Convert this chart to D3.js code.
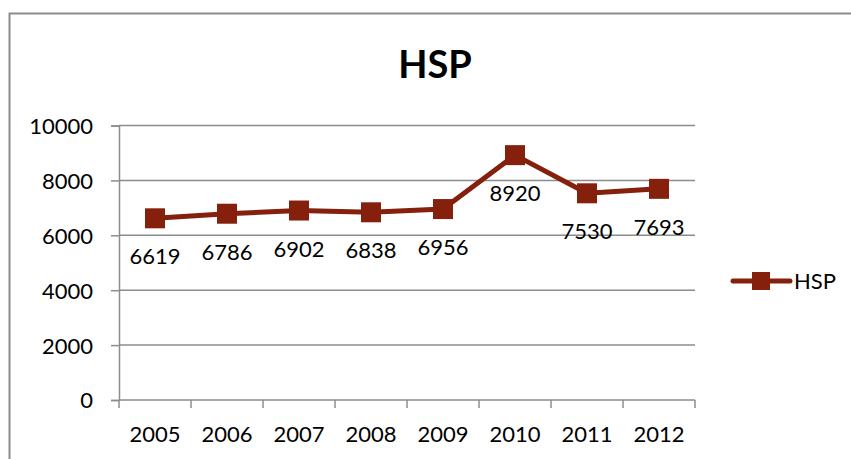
<!DOCTYPE html>
<html>
<head>
<meta charset="utf-8">
<script src="https://cdn.jsdelivr.net/npm/d3@7"></script>
<style>
  body { margin: 0; background: #fff; }
  text { font-family: Lato, "Open Sans", sans-serif; fill: #000; }
</style>
</head>
<body>
<div id="target"></div>
<script>
const years = ['2005', '2006', '2007', '2008', '2009', '2010', '2011', '2012'];
const hsp = [6619, 6786, 6902, 6838, 6956, 8920, 7530, 7693];
const yTicks = [0, 2000, 4000, 6000, 8000, 10000];

const width = 851;
const height = 459;
const red = '#85200c';
const grey = '#8c8c8c';

const svg = d3.select('#target').append('svg').attr('width', width).attr('height', height);

// chart frame (only top and left edges fall inside the picture)
svg.append('rect')
  .attr('x', 9.5)
  .attr('y', 13.5)
  .attr('width', 900)
  .attr('height', 500)
  .attr('fill', 'none')
  .attr('stroke', grey)
  .attr('stroke-width', 2);

svg.append('text')
  .attr('x', 435)
  .attr('y', 78)
  .attr('text-anchor', 'middle')
  .style('font-size', '38px')
  .style('font-weight', 'bold')
  .text('HSP');

const x = d3.scaleBand().domain(years).range([119, 695]);
const y = d3.scaleLinear().domain([0, 10000]).range([400, 125.5]);

// gridlines
svg.selectAll('.grid')
  .data(yTicks.filter((d) => d > 0))
  .enter()
  .append('line')
  .attr('class', 'grid')
  .attr('x1', 119)
  .attr('x2', 695)
  .attr('y1', (d) => y(d))
  .attr('y2', (d) => y(d))
  .attr('stroke', grey)
  .attr('stroke-width', 1.5);

// y axis
const yAxis = svg.append('g')
  .attr('transform', 'translate(119,0)')
  .call(d3.axisLeft(y).tickValues(yTicks).tickSize(8).tickPadding(18).tickFormat(d3.format('d')));
yAxis.select('.domain').attr('stroke', grey).attr('stroke-width', 1.5);
yAxis.selectAll('.tick line').attr('stroke', grey).attr('stroke-width', 1.5);
yAxis.selectAll('.tick text').style('font-size', '22px').attr('dy', '0.36em');

// x axis, ticks sit between categories
const xAxis = svg.append('g')
  .attr('transform', 'translate(0,400)');
xAxis.append('line')
  .attr('x1', 119)
  .attr('x2', 695)
  .attr('stroke', grey)
  .attr('stroke-width', 1.5);
xAxis.selectAll('.xtick')
  .data(years.concat(['end']))
  .enter()
  .append('line')
  .attr('class', 'xtick')
  .attr('x1', (d, i) => 119 + i * x.bandwidth())
  .attr('x2', (d, i) => 119 + i * x.bandwidth())
  .attr('y1', 0)
  .attr('y2', 8)
  .attr('stroke', grey)
  .attr('stroke-width', 1.5);
xAxis.selectAll('.xlabel')
  .data(years)
  .enter()
  .append('text')
  .attr('class', 'xlabel')
  .attr('x', (d) => x(d) + x.bandwidth() / 2)
  .attr('y', 42)
  .attr('text-anchor', 'middle')
  .style('font-size', '22px')
  .text((d) => d);

const pts = years.map((d, i) => ({ year: d, value: hsp[i] }));

const line = d3.line()
  .x((d) => x(d.year) + x.bandwidth() / 2)
  .y((d) => y(d.value));

svg.append('path')
  .datum(pts)
  .attr('d', line)
  .attr('fill', 'none')
  .attr('stroke', red)
  .attr('stroke-width', 5)
  .attr('stroke-linejoin', 'round');

svg.selectAll('.marker')
  .data(pts)
  .enter()
  .append('rect')
  .attr('class', 'marker')
  .attr('x', (d) => x(d.year) + x.bandwidth() / 2 - 10)
  .attr('y', (d) => y(d.value) - 10)
  .attr('width', 20)
  .attr('height', 20)
  .attr('fill', red);

svg.selectAll('.label')
  .data(pts)
  .enter()
  .append('text')
  .attr('class', 'label')
  .attr('x', (d) => x(d.year) + x.bandwidth() / 2)
  .attr('y', (d) => y(d.value) + 46)
  .attr('text-anchor', 'middle')
  .style('font-size', '22px')
  .text((d) => d.value);

// legend
const legend = svg.append('g').attr('transform', 'translate(733,281)');
legend.append('line')
  .attr('x1', 0)
  .attr('x2', 57)
  .attr('stroke', red)
  .attr('stroke-width', 5)
  .attr('stroke-linecap', 'round');
legend.append('rect')
  .attr('x', 19)
  .attr('y', -9)
  .attr('width', 18)
  .attr('height', 18)
  .attr('fill', red);
legend.append('text')
  .attr('x', 61)
  .attr('y', 8)
  .style('font-size', '22px')
  .text('HSP');
</script>
</body>
</html>
